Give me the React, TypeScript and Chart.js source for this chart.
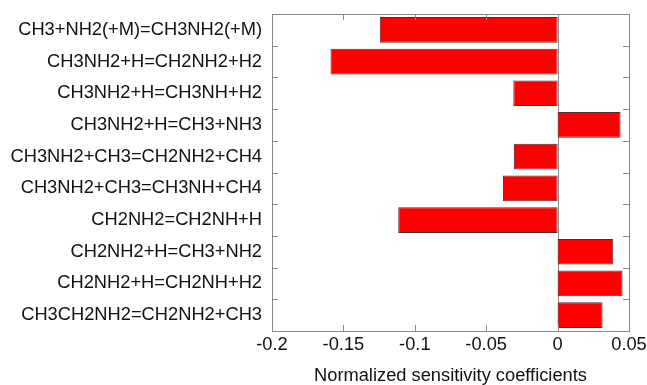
import React, { useEffect, useRef } from "react";
import { Chart, registerables } from "chart.js";

Chart.register(...registerables);

const reactions: string[] = [
  "CH3+NH2(+M)=CH3NH2(+M)",
  "CH3NH2+H=CH2NH2+H2",
  "CH3NH2+H=CH3NH+H2",
  "CH3NH2+H=CH3+NH3",
  "CH3NH2+CH3=CH2NH2+CH4",
  "CH3NH2+CH3=CH3NH+CH4",
  "CH2NH2=CH2NH+H",
  "CH2NH2+H=CH3+NH2",
  "CH2NH2+H=CH2NH+H2",
  "CH3CH2NH2=CH2NH2+CH3",
];

const sensitivities: number[] = [
  -0.1245, -0.159, -0.031, 0.0441, -0.0306, -0.0383, -0.1116, 0.039, 0.0455, 0.0315,
];

const xTickValues: number[] = [-0.2, -0.15, -0.1, -0.05, 0, 0.05];
const xTickLabels: string[] = ["-0.2", "-0.15", "-0.1", "-0.05", "0", "0.05"];

const axisTitle = "Normalized sensitivity coefficients";

const FONT = "'Liberation Sans', Arial, sans-serif";
const FRAME = "#8a8a8a";

const framePlugin = {
  id: "framePlugin",
  beforeDatasetsDraw(chart: any) {
    const { ctx, chartArea, scales } = chart;
    const x = scales.x;
    ctx.save();
    ctx.strokeStyle = FRAME;
    ctx.lineWidth = 1;
    const zx = Math.round(x.getPixelForValue(0)) + 0.5;
    ctx.beginPath();
    ctx.moveTo(zx, chartArea.top);
    ctx.lineTo(zx, chartArea.bottom);
    ctx.stroke();
    ctx.restore();
  },
  afterDatasetsDraw(chart: any) {
    const { ctx, chartArea, scales } = chart;
    const { left, right, top, bottom } = chartArea;
    const x = scales.x;
    const y = scales.y;
    ctx.save();
    ctx.strokeStyle = FRAME;
    ctx.lineWidth = 1;
    ctx.strokeRect(Math.round(left) + 0.5, Math.round(top) + 0.5, Math.round(right - left), Math.round(bottom - top));
    const tl = 6;
    ctx.beginPath();
    xTickValues.forEach((v) => {
      const px = Math.round(x.getPixelForValue(v)) + 0.5;
      ctx.moveTo(px, top);
      ctx.lineTo(px, top + tl);
      ctx.moveTo(px, bottom);
      ctx.lineTo(px, bottom - tl);
    });
    for (let i = 1; i < reactions.length; i++) {
      const py = Math.round((y.getPixelForValue(i - 1) + y.getPixelForValue(i)) / 2) + 0.5;
      ctx.moveTo(left, py);
      ctx.lineTo(left + tl, py);
      ctx.moveTo(right, py);
      ctx.lineTo(right - tl, py);
    }
    ctx.stroke();
    ctx.restore();
  },
};

export default function App() {
  const ref = useRef<HTMLCanvasElement | null>(null);

  useEffect(() => {
    document.body.style.margin = "0";
    if (!ref.current) return;
    const chart = new Chart(ref.current, {
      type: "bar",
      data: {
        labels: reactions,
        datasets: [
          {
            data: sensitivities,
            backgroundColor: "#ff0000",
            borderColor: "#5a2a2a",
            borderWidth: 1,
            borderSkipped: false,
            categoryPercentage: 1,
            barPercentage: 0.81,
          },
        ],
      },
      options: {
        indexAxis: "y",
        animation: false,
        responsive: false,
        maintainAspectRatio: false,
        layout: { padding: { top: 14, right: 18, left: 0, bottom: 0 } },
        plugins: { legend: { display: false }, tooltip: { enabled: false } },
        scales: {
          x: {
            type: "linear",
            min: -0.2,
            max: 0.05,
            afterBuildTicks: (scale: any) => {
              scale.ticks = xTickValues.map((v) => ({ value: v }));
            },
            afterFit: (scale: any) => {
              scale.height = 54;
              scale.paddingLeft = 0;
              scale.paddingRight = 0;
            },
            grid: { display: false, drawTicks: false },
            border: { display: false },
            ticks: {
              padding: 3,
              color: "#111",
              maxRotation: 0,
              font: { family: FONT, size: 18.3 },
              callback: (v: any) => {
                const i = xTickValues.findIndex((t) => Math.abs(t - Number(v)) < 1e-9);
                return i >= 0 ? xTickLabels[i] : "";
              },
            },
            title: {
              display: true,
              text: axisTitle,
              color: "#111",
              font: { family: FONT, size: 18.3, lineHeight: 1 },
              padding: { top: 0, bottom: 0 },
            },
          },
          y: {
            type: "category",
            offset: true,
            afterFit: (scale: any) => {
              scale.width = 272;
              scale.paddingTop = 0;
              scale.paddingBottom = 0;
            },
            grid: { display: false, drawTicks: false },
            border: { display: false },
            ticks: {
              padding: 10,
              color: "#111",
              autoSkip: false,
              font: { family: FONT, size: 18.3 },
            },
          },
        },
      },
      plugins: [framePlugin],
    } as any);
    return () => chart.destroy();
  }, []);

  return (
    <div style={{ width: 647, height: 385, position: "relative", background: "#fff" }}>
      <canvas ref={ref} width={647} height={385} style={{ display: "block" }} />
    </div>
  );
}
